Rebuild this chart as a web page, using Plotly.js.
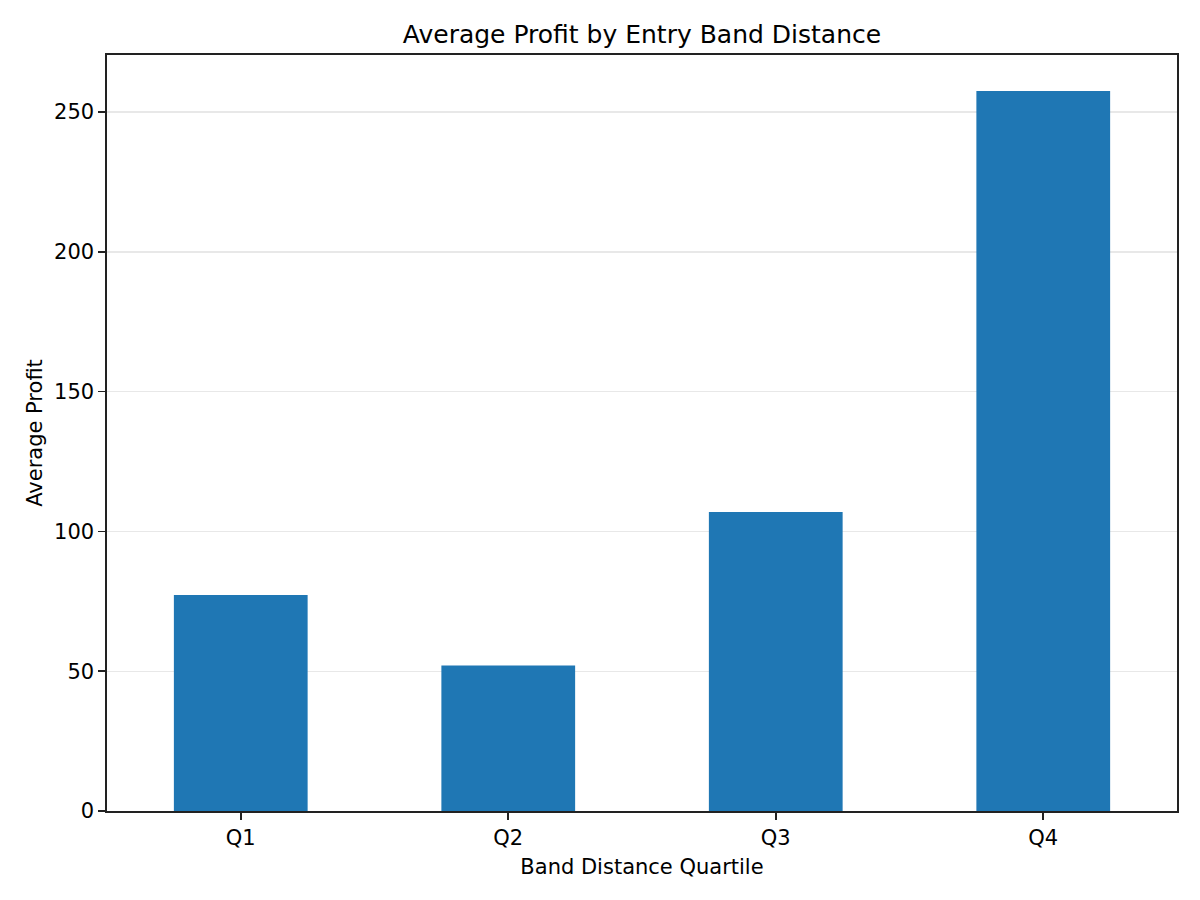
<!DOCTYPE html>
<html>
<head>
<meta charset="utf-8">
<script src="https://cdn.plot.ly/plotly-3.0.1.min.js"></script>
<style>
  html, body { margin: 0; padding: 0; background: #fff; }
  #plot { width: 1200px; height: 900px; }
</style>
</head>
<body>
<div id="plot"></div>
<script>
// Average profit per band-distance quartile.
const quartiles = ["Q1", "Q2", "Q3", "Q4"];
const avgProfit = [77.3, 52.0, 106.9, 257.5];
const yTicks    = [0, 50, 100, 150, 200, 250];

const FONT = "DejaVu Sans, Liberation Sans, sans-serif";

const data = [{
  type: "bar",
  x: quartiles,
  y: avgProfit,
  width: 0.5,
  marker: { color: "#1f77b4", line: { width: 0 } },
  hoverinfo: "x+y",
}];

const layout = {
  width: 1200,
  height: 900,
  paper_bgcolor: "#ffffff",
  plot_bgcolor: "#ffffff",
  font: { family: FONT, color: "#000000", size: 21 },
  margin: { l: 107, r: 23, t: 55, b: 89 },
  title: {
    text: "Average Profit by Entry Band Distance",
    font: { family: FONT, size: 25, color: "#000000" },
    xref: "paper", x: 0.5, xanchor: "center",
    y: 1 - 34 / 900, yanchor: "middle",
  },
  xaxis: {
    type: "category",
    range: [-0.5, 3.5],
    showline: true, linecolor: "#222222", linewidth: 1.6, mirror: true,
    ticks: "outside", ticklen: 7, tickwidth: 1.6, tickcolor: "#222222",
    showgrid: false, zeroline: false,
    tickfont: { family: FONT, size: 21 },
    title: { text: "Band Distance Quartile", font: { family: FONT, size: 21 }, standoff: 10 },
  },
  yaxis: {
    range: [0, 270.4],
    tickvals: yTicks,
    showline: true, linecolor: "#222222", linewidth: 1.6, mirror: true,
    ticks: "outside", ticklen: 7, tickwidth: 1.6, tickcolor: "#222222",
    showgrid: true, gridcolor: "#e8e8e8", gridwidth: 1.4,
    zeroline: false,
    tickfont: { family: FONT, size: 21 },
    title: { text: "Average Profit", font: { family: FONT, size: 21 }, standoff: 6 },
  },
  showlegend: false,
  bargap: 0.5,
};

Plotly.newPlot("plot", data, layout, { displayModeBar: false, staticPlot: true });
</script>
</body>
</html>
